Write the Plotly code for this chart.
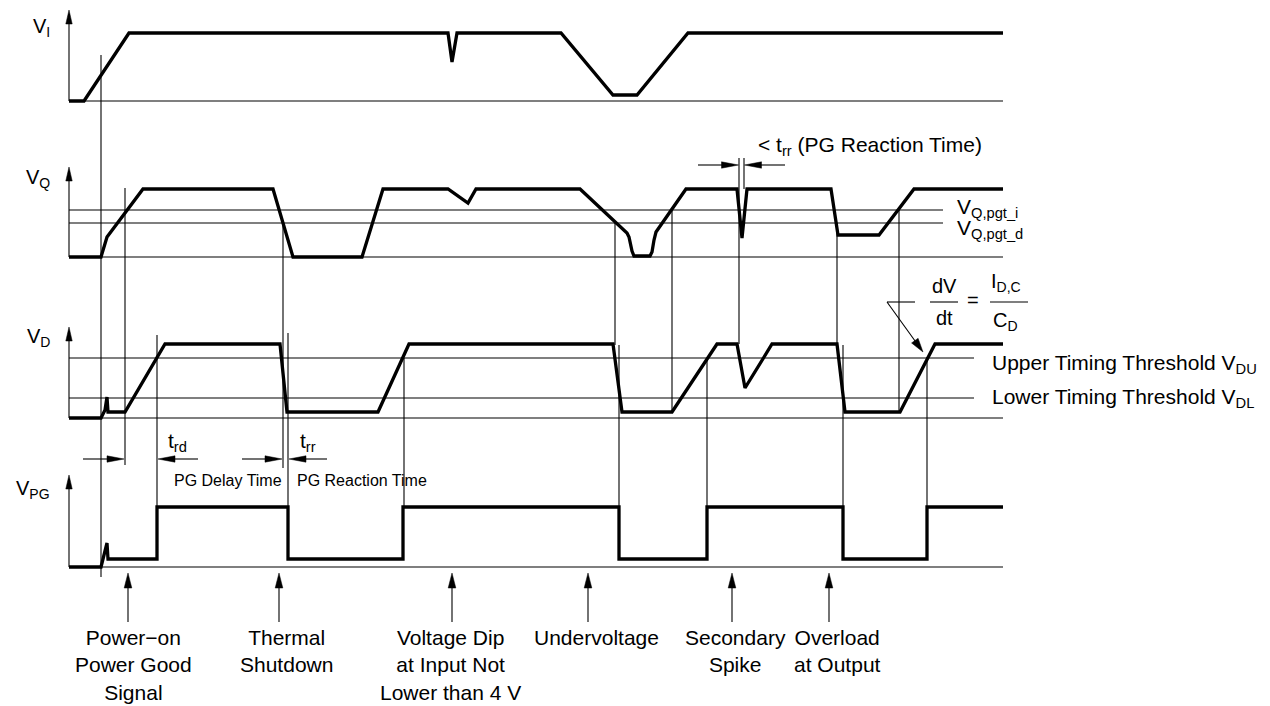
import math
import plotly.graph_objects as go

W, H = 1270, 706
FONT = "Liberation Sans, Arial, Helvetica, sans-serif"
FS = 21

# ---- panel geometry (time axis in px-like units, level in px above baseline)
PANEL_LABELS = ["V<sub>I</sub>", "V<sub>Q</sub>", "V<sub>D</sub>", "V<sub>PG</sub>"]
PANEL_LABEL_Y = [27, 178, 337, 489]
BASE_Y = [101, 257, 418, 567]
AXIS_TOP = [10, 167, 327, 475]
AXIS_X = 69
BASE_END = 1003

# ---- waveforms
VI_T = [69, 84, 129, 448, 452, 457, 561, 613, 637, 688, 1003]
VI_V = [0, 0, 68, 68, 39, 68, 68, 6, 6, 68, 68]

VQ_T = [69, 101, 107, 143, 273, 293, 362, 383, 448, 468, 476, 580, 627, 629, 632,
        634, 650, 652, 654, 656, 686, 737, 742, 747, 831, 838, 879, 914, 1003]
VQ_V = [0, 0, 20, 68, 68, 0, 0, 68, 68, 54, 68, 68, 24, 20, 6,
        1, 1, 5, 17, 25, 68, 68, 19, 68, 68, 22, 22, 68, 68]

VD_T = [69, 101, 105, 107, 108, 125, 165, 280, 287, 378, 409, 613, 622, 672, 717,
        737, 745, 772, 837, 845, 900, 935, 1003]
VD_V = [0, 0, 8, 21, 6, 6, 74, 74, 6, 6, 74, 74, 6, 6, 74,
        74, 30, 74, 74, 6, 6, 74, 74]

VPG_T = [69, 101, 107, 108, 157, 157, 288, 288, 403, 403, 619, 619, 707, 707,
         843, 843, 927, 927, 1003]
VPG_V = [0, 0, 24, 8, 8, 60, 60, 8, 8, 60, 60, 8, 8, 60, 60, 8, 8, 60, 60]

WAVES = [(VI_T, VI_V), (VQ_T, VQ_V), (VD_T, VD_V), (VPG_T, VPG_V)]

# ---- threshold lines (panel index, level, end x)
THRESH_PANEL = [1, 1, 2, 2]
THRESH_LEVEL = [47, 34, 60, 20]
THRESH_END = [943, 943, 974, 974]
THRESH_TEXT = ["V<sub>Q,pgt_i</sub>", "V<sub>Q,pgt_d</sub>",
               "Upper Timing Threshold V<sub>DU</sub>",
               "Lower Timing Threshold V<sub>DL</sub>"]
THRESH_TEXT_X = [955, 955, 990, 990]
THRESH_TEXT_Y = [208, 229, 364, 398]

# ---- vertical marker lines
MARK_X = [101, 125, 157, 283, 288, 404, 615, 619, 672, 707, 739, 744, 837, 843, 899, 927]
MARK_Y0 = [55, 188, 335, 223, 333, 358, 223, 345, 210, 358, 158, 158, 223, 345, 210, 357]
MARK_Y1 = [577, 465, 507, 468, 507, 507, 345, 507, 412, 507, 344, 189, 344, 507, 412, 507]

# ---- dimension arrows (tail x, tip x, y)
DIM_TAIL = [83, 198, 242, 327, 698, 785]
DIM_TIP = [124, 158, 282, 289, 738.5, 744.5]
DIM_Y = [459, 459, 459, 459, 165, 165]

# ---- events
EVENT_X = [128, 279, 452, 588, 732, 829]
EVENT_LABEL_X = [133, 286, 450, 596, 735, 837]
EVENT_TEXT = ["Power\u2212on<br>Power Good<br>Signal", "Thermal<br>Shutdown",
              "Voltage Dip<br>at Input Not<br>Lower than 4 V", "Undervoltage",
              "Secondary<br>Spike", "Overload<br>at Output"]
EVENT_TAIL_Y = 622
EVENT_TIP_Y = 573

fig = go.Figure()

# waveforms
for (t, v), by in zip(WAVES, BASE_Y):
    fig.add_trace(go.Scatter(x=t, y=[by - val for val in v], mode="lines",
                             line=dict(color="black", width=3.3),
                             hoverinfo="skip", showlegend=False))

shapes = []


def line(x0, y0, x1, y1, w=1.1):
    shapes.append(dict(type="line", xref="x", yref="y", x0=x0, y0=y0, x1=x1, y1=y1,
                       line=dict(color="black", width=w), layer="below"))


def arrow(xt, yt, xh, yh, L, Wd, w=1.1):
    dx, dy = xh - xt, yh - yt
    n = math.hypot(dx, dy)
    ux, uy = dx / n, dy / n
    bx, by = xh - ux * L, yh - uy * L
    px, py = -uy, ux
    line(xt, yt, bx + ux * 2, by + uy * 2, w)
    path = (f"M{xh},{yh} L{bx + px * Wd},{by + py * Wd} "
            f"L{bx - px * Wd},{by - py * Wd} Z")
    shapes.append(dict(type="path", xref="x", yref="y", path=path,
                       fillcolor="black", line=dict(color="black", width=0.5)))


# baselines and axis arrows
for by, top in zip(BASE_Y, AXIS_TOP):
    line(AXIS_X, by, BASE_END, by)
    arrow(AXIS_X, by, AXIS_X, top, 14, 3.2)

# thresholds
for p, lv, xe in zip(THRESH_PANEL, THRESH_LEVEL, THRESH_END):
    y = BASE_Y[p] - lv
    line(AXIS_X, y, xe, y)

# markers
for x, y0, y1 in zip(MARK_X, MARK_Y0, MARK_Y1):
    line(x, y0, x, y1)

# dimension arrows
for xt, xh, y in zip(DIM_TAIL, DIM_TIP, DIM_Y):
    arrow(xt, y, xh, y, 17, 3.2)

# event arrows
for x in EVENT_X:
    arrow(x, EVENT_TAIL_Y, x, EVENT_TIP_Y, 15, 3.8)

# slope arrow + leader
line(887, 302, 915, 302)
arrow(887, 302, 923, 352, 14, 4)

# fraction bars
line(930, 302, 958, 302)
line(990, 302, 1028, 302)

annotations = []


def text(x, y, s, size=FS, xanchor="left", yanchor="middle", align="left"):
    annotations.append(dict(x=x, y=y, xref="x", yref="y", text=s, showarrow=False,
                            xanchor=xanchor, yanchor=yanchor, align=align,
                            font=dict(family=FONT, size=size, color="black")))


for s, y in zip(PANEL_LABELS, PANEL_LABEL_Y):
    text(52, y, s, size=20, xanchor="right")

for s, x, y in zip(THRESH_TEXT, THRESH_TEXT_X, THRESH_TEXT_Y):
    text(x, y, s)

text(756, 146, "< t<sub>rr</sub> (PG Reaction Time)")
text(166, 442, "t<sub>rd</sub>")
text(298, 442, "t<sub>rr</sub>")
text(172, 480, "PG Delay Time", size=16)
text(295, 480, "PG Reaction Time", size=16)

for x, s in zip(EVENT_LABEL_X, EVENT_TEXT):
    text(x, 624, s, xanchor="center", yanchor="top", align="center")

# formula
text(944, 286, "dV", size=20, xanchor="center")
text(944, 318, "dt", size=20, xanchor="center")
text(973, 300, "=", size=20, xanchor="center")
text(989, 282, "I<sub>D,C</sub>", size=20)
text(991, 321, "C<sub>D</sub>", size=20)

fig.update_layout(
    width=W, height=H, margin=dict(l=0, r=0, t=0, b=0),
    paper_bgcolor="white", plot_bgcolor="white",
    xaxis=dict(range=[0, W], visible=False, fixedrange=True),
    yaxis=dict(range=[H, 0], visible=False, fixedrange=True),
    shapes=shapes, annotations=annotations, showlegend=False,
)

fig.write_html("out.html", config={"displayModeBar": False},
               post_script="document.body.style.margin='0';"
                           "document.body.style.overflow='hidden';")
